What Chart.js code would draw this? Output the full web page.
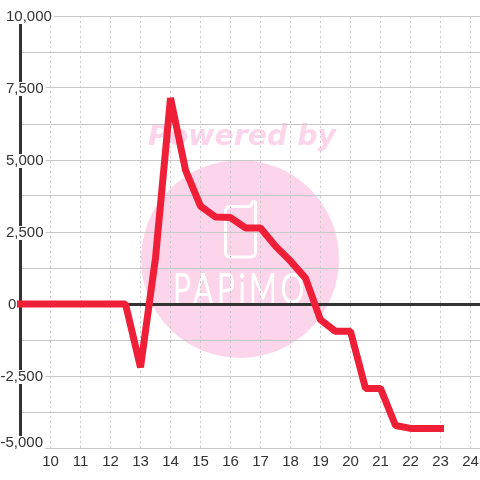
<!DOCTYPE html>
<html><head><meta charset="utf-8">
<style>html,body{margin:0;padding:0;background:#fff}#w{width:480px;height:480px}</style>
<script src="https://cdn.jsdelivr.net/npm/chart.js@4"></script></head>
<body><div id="w"><canvas id="c" width="480" height="480"></canvas></div>
<script>
const hours=[9,9.5,10,10.5,11,11.5,12,12.5,13,13.5,14,14.5,15,15.5,16,16.5,17,17.5,18,18.5,19,19.5,20,20.5,21,21.5,22,22.5,23];
const values=[0,0,0,0,0,0,0,0,-2200,1600,7150,4650,3400,3020,3000,2640,2640,2010,1490,900,-550,-950,-950,-2930,-2930,-4220,-4320,-4320,-4320];
const xTicks=[10,11,12,13,14,15,16,17,18,19,20,21,22,23,24];
const yTicks=[-5000,-3750,-2500,-1250,0,1250,2500,3750,5000,6250,7500,8750,10000];
const yLabels=[-5000,-2500,2500,5000,7500,10000];
const zeroLabel=0;
const watermarkTop='Powered by', watermarkName='PAPiMO';
const fontFace='"Liberation Sans",Arial,sans-serif';
const ink='#333333', grid='#c8c8c8', pink='#fcd5ea', red='#f01f38';

const watermark={id:'watermark',beforeDraw(ch){
  const c=ch.ctx;c.save();
  c.fillStyle='#ffffff';c.fillRect(0,0,480,480);
  c.fillStyle=pink;c.beginPath();c.arc(240,259,99,0,Math.PI*2);c.fill();
  c.font='italic bold 28.4px "DejaVu Sans"';c.textAlign='center';c.textBaseline='alphabetic';
  c.fillText(watermarkTop,242,145);
  c.strokeStyle='#ffffff';c.lineWidth=3;c.lineJoin='round';c.lineCap='round';
  c.beginPath();
  c.moveTo(255.5,202);c.lineTo(255.5,252);c.quadraticCurveTo(255.5,257,250,257);
  c.lineTo(231,257);c.quadraticCurveTo(225.5,257,225.5,252);
  c.lineTo(225.5,212);c.quadraticCurveTo(225.5,206.5,231,206.5);
  c.lineTo(249,206.5);c.quadraticCurveTo(251,206.5,251.5,204);c.quadraticCurveTo(252.5,200.5,255.5,202);
  c.stroke();
  c.fillStyle='#ffffff';
  c.font='400 42px Lato';c.textAlign='left';c.letterSpacing='5px';
  const w=c.measureText(watermarkName).width;
  c.translate(173,304);c.scale(135/w,1);c.fillText(watermarkName,0,0);
  c.restore();
}};
const yLabelPlugin={id:'yLabelPlugin',
  beforeDatasetsDraw(ch){
    const s=ch.scales.y,c=ch.ctx;c.save();
    c.font='15px '+fontFace;c.textBaseline='middle';c.textAlign='left';c.fillStyle=ink;
    c.fillText(String(zeroLabel),8,s.getPixelForValue(zeroLabel)+1);
    c.restore();
  },
  afterDatasetsDraw(ch){
    const s=ch.scales.y,c=ch.ctx;c.save();
    c.font='15px '+fontFace;c.textBaseline='middle';c.textAlign='left';
    yLabels.forEach(v=>{
      const t=v.toLocaleString('en-US'),w=c.measureText(t).width;
      let y=s.getPixelForValue(v),x=43-w;
      if(v===-5000)y-=6;
      if(x<6&&v>0)x=6;
      c.fillStyle='#ffffff';c.fillRect(x-2,y-6,w+4,14);
      c.fillStyle=ink;c.fillText(t,x,y+1);
    });
    c.restore();
  }};
new Chart(document.getElementById('c'),{
  type:'line',
  data:{labels:hours,datasets:[{data:hours.map((h,i)=>({x:h,y:values[i]})),borderColor:red,borderWidth:7,pointRadius:0,tension:0,borderCapStyle:'square',borderJoinStyle:'bevel',clip:false}]},
  plugins:[watermark,yLabelPlugin],
  options:{responsive:false,animation:false,
    layout:{padding:{top:16,right:0,left:0,bottom:0}},
    plugins:{legend:{display:false},title:{display:false},tooltip:{enabled:false}},
    scales:{
      x:{type:'linear',min:8.98333,max:24.31667,
        afterBuildTicks:s=>{s.ticks=xTicks.map(v=>({value:v}));},
        afterFit:s=>{s.height=32;s.paddingLeft=0;s.paddingRight=0;},
        grid:{color:grid,lineWidth:1,drawTicks:false},
        border:{display:false,dash:[2,3]},
        ticks:{color:ink,font:{size:15,family:fontFace},padding:5,maxRotation:0,autoSkip:false,callback:v=>String(v)}},
      y:{type:'linear',min:-5000,max:10000,
        afterBuildTicks:s=>{s.ticks=yTicks.map(v=>({value:v}));},
        afterFit:s=>{s.width=20;s.paddingTop=0;s.paddingBottom=0;},
        grid:{color:c=>c.tick&&c.tick.value===0?ink:grid,lineWidth:c=>c.tick&&c.tick.value===0?3:1,drawTicks:false},
        border:{display:true,color:ink,width:3},
        ticks:{display:false}}
    }
  }
});
</script></body></html>
